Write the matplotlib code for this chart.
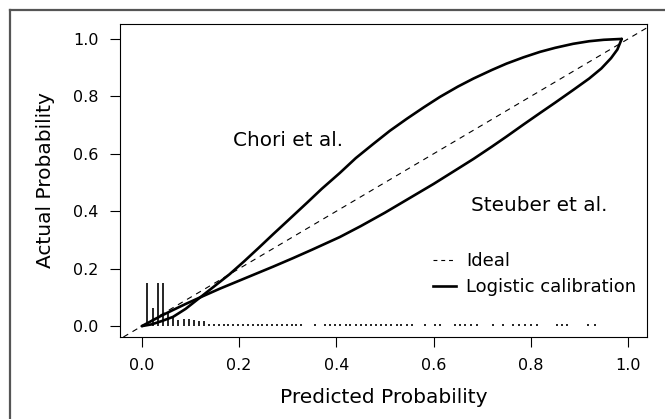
import matplotlib
matplotlib.use("Agg")
import matplotlib.pyplot as plt
import matplotlib.lines as mlines

# calibration curves
chori_x = [0.0, 0.02, 0.04, 0.064, 0.09, 0.12, 0.15, 0.18, 0.21, 0.24, 0.27,
           0.30, 0.34, 0.37, 0.407, 0.44, 0.475, 0.51, 0.545, 0.58, 0.613,
           0.65, 0.682, 0.72, 0.75, 0.785, 0.819, 0.85, 0.887, 0.92, 0.95, 0.987]
chori_y = [0.0, 0.006, 0.017, 0.032, 0.06, 0.10, 0.14, 0.18, 0.225, 0.272, 0.32,
           0.367, 0.43, 0.478, 0.533, 0.585, 0.633, 0.68, 0.722, 0.762, 0.798,
           0.834, 0.862, 0.892, 0.914, 0.936, 0.955, 0.969, 0.983, 0.992, 0.997, 1.0]

steuber_x = [0.0, 0.02, 0.04, 0.064, 0.09, 0.12, 0.16, 0.2, 0.24, 0.27, 0.31,
             0.35, 0.407, 0.45, 0.5, 0.545, 0.6, 0.65, 0.682, 0.72, 0.75,
             0.785, 0.819, 0.85, 0.887, 0.92, 0.945, 0.965, 0.978, 0.987]
steuber_y = [0.0, 0.018, 0.036, 0.056, 0.077, 0.10, 0.13, 0.158, 0.186, 0.207, 0.236,
             0.266, 0.31, 0.348, 0.395, 0.44, 0.495, 0.548, 0.582, 0.625, 0.66,
             0.702, 0.742, 0.778, 0.822, 0.862, 0.897, 0.933, 0.963, 1.0]

# spike histogram of predicted probabilities (rug along the bottom)
rug_x = [0.01, 0.022, 0.033, 0.043, 0.054, 0.064, 0.075, 0.086, 0.097, 0.107,
         0.118, 0.128, 0.138,
         0.148, 0.158, 0.168, 0.178, 0.188, 0.198, 0.208, 0.218, 0.228, 0.238,
         0.248, 0.258, 0.268, 0.278, 0.288, 0.298, 0.308, 0.318, 0.328,
         0.356,
         0.377, 0.387, 0.398, 0.408, 0.419, 0.429, 0.44, 0.45, 0.461, 0.471,
         0.482, 0.492, 0.503, 0.513, 0.524, 0.534, 0.545, 0.555,
         0.582, 0.603, 0.613, 0.644, 0.654, 0.665, 0.677, 0.689,
         0.723, 0.743, 0.764, 0.776, 0.788, 0.80, 0.812,
         0.853, 0.864, 0.874, 0.918, 0.932]
rug_h = [0.15, 0.063, 0.15, 0.15, 0.05, 0.033, 0.022, 0.023, 0.024, 0.021,
         0.016, 0.016, 0.007] + [0.006] * 58

xticks = [0.0, 0.2, 0.4, 0.6, 0.8, 1.0]
yticks = [0.0, 0.2, 0.4, 0.6, 0.8, 1.0]

fig = plt.figure(figsize=(6.65, 4.19), dpi=100)
ax = fig.add_axes([120 / 665, 1 - 337 / 419, 527 / 665, 313 / 419])

ax.axline((0, 0), slope=1, color='black', lw=0.8, dashes=(5, 4.5))
ax.plot(chori_x, chori_y, color='black', lw=1.9, solid_capstyle='round',
        solid_joinstyle='round')
ax.plot(steuber_x, steuber_y, color='black', lw=1.9, solid_capstyle='round',
        solid_joinstyle='round')
ax.vlines(rug_x, 0, rug_h, color='black', lw=1.2)

ax.text(0.30, 0.648, "Chori et al.", fontsize=14.4, ha='center', va='center')
ax.text(0.818, 0.42, "Steuber et al.", fontsize=14.4, ha='center', va='center')

ideal = mlines.Line2D([], [], color='black', lw=0.8, dashes=(3.5, 3.5), label='Ideal')
logit = mlines.Line2D([], [], color='black', lw=1.9, label='Logistic calibration')
ax.legend(handles=[ideal, logit], loc='center left', bbox_to_anchor=(0.599, 0.18),
          bbox_transform=ax.transData, frameon=False, fontsize=13,
          handlelength=1.25, handletextpad=0.6, labelspacing=0.45,
          borderpad=0, borderaxespad=0)

ax.set_xlim(-0.045, 1.039)
ax.set_ylim(-0.038, 1.052)
ax.set_xticks(xticks)
ax.set_yticks(yticks)
ax.set_xticklabels([f"{t:.1f}" for t in xticks])
ax.set_yticklabels([f"{t:.1f}" for t in yticks])
ax.tick_params(length=7.2, width=0.8, labelsize=11.5, pad=8.2)
for s in ax.spines.values():
    s.set_linewidth(0.8)

ax.set_xlabel("Predicted Probability", fontsize=14.5)
ax.set_ylabel("Actual Probability", fontsize=14.5)
ax.xaxis.set_label_coords(0.5, -0.163)
ax.xaxis.label.set_va('top')
ax.yaxis.set_label_coords(-0.123, 0.5)

# outer frame (only left and top edges visible in the crop)
fig.add_artist(mlines.Line2D([10 / 665, 10 / 665], [0, 1 - 10 / 419],
                             color='#555555', lw=1.6, transform=fig.transFigure))
fig.add_artist(mlines.Line2D([10 / 665, 1], [1 - 10 / 419, 1 - 10 / 419],
                             color='#555555', lw=1.6, transform=fig.transFigure))

fig.savefig("out.png", dpi=100)
